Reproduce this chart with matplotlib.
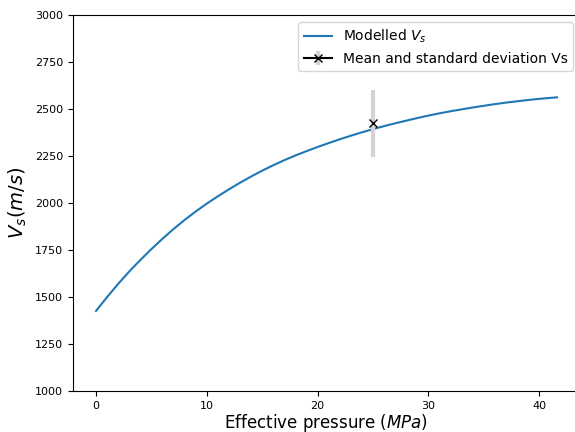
import numpy as np
import matplotlib
matplotlib.use('Agg')
import matplotlib.pyplot as plt

# modelled Vs curve
pressure = [0, 1, 2, 3, 4, 5, 6, 7, 8, 9, 10, 11, 12, 13, 14, 15, 16, 17,
            18, 19, 20, 21, 22, 23, 24, 25, 26, 27, 28, 29, 30, 31, 32, 33,
            34, 35, 36, 37, 38, 39, 40, 41, 41.6]
vs_model = [1426, 1500, 1570, 1636, 1697, 1755, 1810, 1862, 1910, 1955,
            1997, 2036, 2073, 2108, 2141, 2172, 2201, 2228, 2253, 2276,
            2298, 2319, 2339, 2358, 2376, 2393, 2409, 2424, 2438, 2452,
            2465, 2477, 2488, 2498, 2508, 2517, 2526, 2534, 2541, 2548,
            2554, 2559, 2562]

# measured mean / std
p_meas = [25]
vs_mean = [2424]
vs_std = [178]

fig = plt.figure(figsize=(5.75, 4.32), dpi=100)
ax = fig.add_axes([73 / 575, 41 / 432, 507 / 575, 376 / 432])

ax.plot(pressure, vs_model, label='Modelled $V_s$')
ax.errorbar(p_meas, vs_mean, yerr=vs_std, fmt='-x', color='k',
            ecolor='lightgray', elinewidth=3,
            label='Mean and standard deviation Vs')

ax.set_ylim(1000, 3000)
ax.set_xlabel('Effective pressure ($MPa$)', fontsize=12, labelpad=1)
ax.set_ylabel('$V_s (m/s)$', fontsize=14)
ax.tick_params(labelsize=8)
ax.legend(loc='upper right', fontsize=10)

fig.savefig('out.png', dpi=100)
